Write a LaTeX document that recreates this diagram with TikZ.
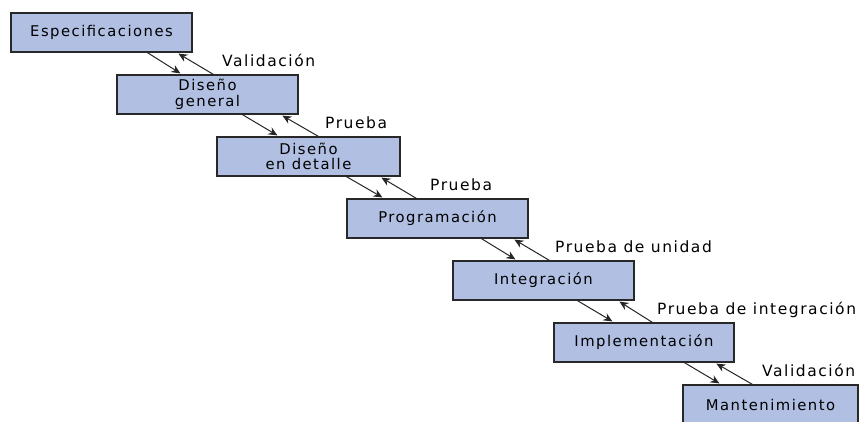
\documentclass[tikz,border=0pt]{standalone}
\usepackage{fontspec}
\setmainfont{DejaVu Sans}[LetterSpace=10]
\usetikzlibrary{calc,arrows.meta}
\definecolor{boxfill}{RGB}{176,191,226}
\definecolor{boxline}{RGB}{40,40,40}
\tikzset{
  stage/.style={draw=boxline, line width=1.2pt, fill=boxfill, minimum height=39pt,
    inner sep=0pt, align=center, font=\fontsize{14.8}{15.5}\selectfont},
  flow/.style={draw=black!85, line width=1pt, -{Stealth[length=9pt,width=8pt]}},
  lbl/.style={anchor=base west, inner sep=0pt, font=\fontsize{15.5}{15}\selectfont}
}
\begin{document}
\begin{tikzpicture}[x=1pt,y=-1pt]
\useasboundingbox (0,0) rectangle (864,421);
\node[stage, minimum width=181pt] (b1) at (101.5,32.5) {Especificaciones};
\node[stage, minimum width=181pt] (b2) at (207.5,94.5) {Diseño\\general};
\node[stage, minimum width=183pt] (b3) at (308.5,156.5) {Diseño\\en detalle};
\node[stage, minimum width=181pt] (b4) at (437.5,218.5) {Programación};
\node[stage, minimum width=181pt] (b5) at (543.5,280.5) {Integración};
\node[stage, minimum width=180pt] (b6) at (644,342.5) {Implementación};
\node[stage, minimum width=175pt] (b7) at (770.5,404.5) {Mantenimiento};

% arrows 1-2
\draw[flow] ($(b1.south west)+(137,0)$) -- ($(b2.north west)+(64,-1)$);
\draw[flow] ($(b2.north west)+(97,0)$) -- ($(b1.south west)+(168,1)$);
% 2-3
\draw[flow] ($(b2.south west)+(126,0)$) -- ($(b3.north west)+(61,-1)$);
\draw[flow] ($(b3.north west)+(102,0)$) -- ($(b2.south west)+(166,1)$);
% 3-4
\draw[flow] ($(b3.south west)+(130,0)$) -- ($(b4.north west)+(36,-1)$);
\draw[flow] ($(b4.north west)+(70,0)$) -- ($(b3.south west)+(165,1)$);
% 4-5
\draw[flow] ($(b4.south west)+(135,0)$) -- ($(b5.north west)+(63,-1)$);
\draw[flow] ($(b5.north west)+(97,0)$) -- ($(b4.south west)+(168,1)$);
% 5-6
\draw[flow] ($(b5.south west)+(125,0)$) -- ($(b6.north west)+(59,-1)$);
\draw[flow] ($(b6.north west)+(99,0)$) -- ($(b5.south west)+(167,1)$);
% 6-7
\draw[flow] ($(b6.south west)+(131,0)$) -- ($(b7.north west)+(37,-1)$);
\draw[flow] ($(b7.north west)+(70,0)$) -- ($(b6.south west)+(163,1)$);

\node[lbl] (l1) at (222,66) {Validación};
\node[lbl] (l2) at (325,128) {Prueba};
\node[lbl] (l3) at (430,190) {Prueba};
\node[lbl] (l4) at (555,252) {Prueba de unidad};
\node[lbl] (l5) at (657,314) {Prueba de integración};
\node[lbl] (l6) at (762,376) {Validación};
\end{tikzpicture}
\end{document}
